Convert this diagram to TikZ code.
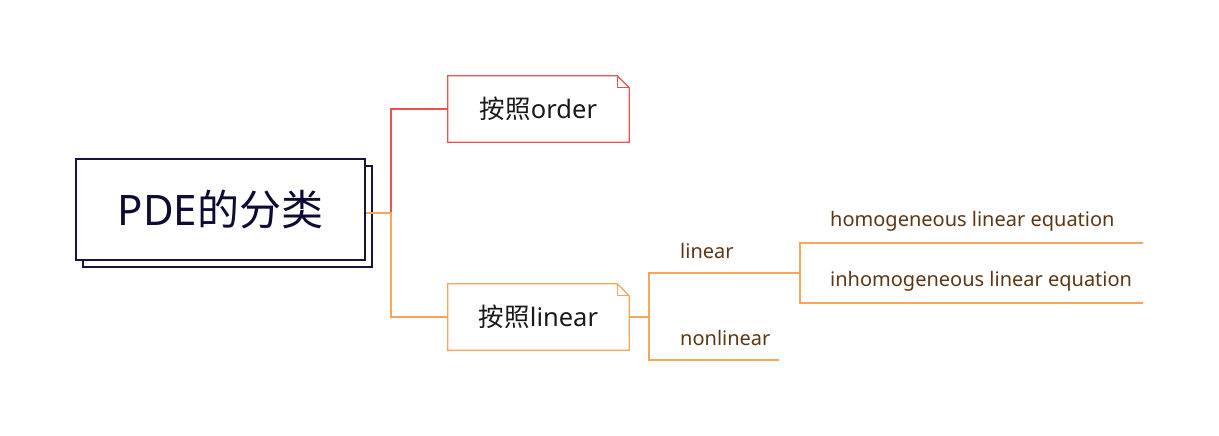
\documentclass[tikz,border=0pt]{standalone}
\usepackage{fontspec}
\setmainfont{Noto Sans}
\newfontfamily\cjk{Noto Sans CJK SC}
\usetikzlibrary{shadows,calc}
\definecolor{navy}{HTML}{14143C}
\definecolor{navytext}{HTML}{0B0B36}
\definecolor{redline}{HTML}{E8524F}
\definecolor{orangeline}{HTML}{F6A55A}
\definecolor{brown}{HTML}{5E3612}
\tikzset{
  mainbox/.style={draw=navy, fill=white, line width=1.3pt, minimum width=289pt, minimum height=101pt,
    text=navytext, font=\fontsize{42}{50}\selectfont, inner sep=0pt,
    copy shadow={shadow xshift=7pt, shadow yshift=-7pt, draw=navy, fill=white}},
  subbox/.style={minimum width=181pt, minimum height=66pt, inner sep=0pt,
    text=black!90, font=\fontsize{25.5}{30}\selectfont},
  lbl/.style={anchor=west, inner sep=0pt, text=brown, font=\fontsize{20}{24}\selectfont},
  redc/.style={draw=redline, line width=1.2pt},
  orc/.style={draw=orangeline, line width=1.2pt},
}
\begin{document}
\begin{tikzpicture}[x=1pt,y=-1pt]
\useasboundingbox (0,0) rectangle (1219,436);
\node[mainbox] (root) at (220.5,209.5) {PDE{\cjk 的分类}};
\node[subbox] (order) at (538.5,109) {{\cjk 按照}order};
\node[subbox] (lin) at (538.5,317) {{\cjk 按照}linear};
% folded boxes
\draw[redc, line join=miter] (order.north west) -- ([xshift=-12pt]order.north east) -- ([yshift=-12pt]order.north east) -- (order.south east) -- (order.south west) -- cycle;
\draw[redc] ([xshift=-12pt]order.north east) |- ([yshift=-12pt]order.north east);
\draw[orc, line join=miter] (lin.north west) -- ([xshift=-12pt]lin.north east) -- ([yshift=-12pt]lin.north east) -- (lin.south east) -- (lin.south west) -- cycle;
\draw[orc] ([xshift=-12pt]lin.north east) |- ([yshift=-12pt]lin.north east);
% connectors level 1
\coordinate (j1) at (391,213);
\draw[redc] (j1) |- (order.west);
\draw[orc] (root.east |- j1) -- (j1) |- (lin.west);
% level 2
\coordinate (j2) at (649,317);
\coordinate (l1e) at (800,273);
\coordinate (l2e) at (779,360);
\draw[orc] (lin.east) -- (j2);
\draw[orc] (l1e) -| (j2) |- (l2e);
\node[lbl] (tlin) at (680,251) {linear};
\node[lbl] (tnon) at (680,338) {nonlinear};
% level 3
\coordinate (h1e) at (1143,243);
\coordinate (h2e) at (1143,303);
\draw[orc] (h1e) -| (l1e) |- (h2e);
\node[lbl] (thom) at (830,221) {homogeneous linear equation};
\node[lbl] (tinh) at (830,281) {inhomogeneous linear equation};
\end{tikzpicture}
\end{document}
